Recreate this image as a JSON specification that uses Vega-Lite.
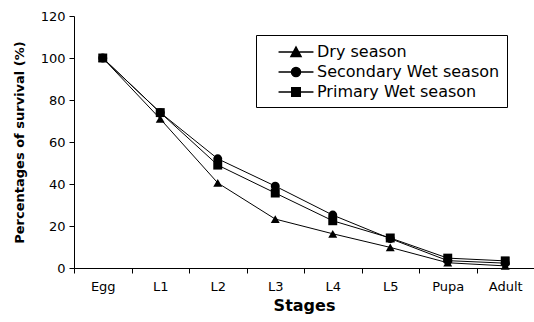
{
  "$schema": "https://vega.github.io/schema/vega-lite/v6.json",
  "width": 460,
  "height": 252,
  "autosize": "none",
  "padding": {"left": 74, "top": 16, "right": 0, "bottom": 54},
  "background": "white",
  "config": {
    "view": {"stroke": null},
    "font": "DejaVu Sans",
    "axis": {"grid": false, "domainColor": "black", "tickColor": "black", "labelColor": "black", "titleColor": "black", "labelFont": "DejaVu Sans", "titleFont": "DejaVu Sans"}
  },
  "data": {
    "values": [
      {"stage": "Egg", "season": "Dry season", "v": 100},
      {"stage": "L1", "season": "Dry season", "v": 71},
      {"stage": "L2", "season": "Dry season", "v": 40.5},
      {"stage": "L3", "season": "Dry season", "v": 23.3},
      {"stage": "L4", "season": "Dry season", "v": 16.3},
      {"stage": "L5", "season": "Dry season", "v": 9.8},
      {"stage": "Pupa", "season": "Dry season", "v": 2.5},
      {"stage": "Adult", "season": "Dry season", "v": 1},
      {"stage": "Egg", "season": "Secondary Wet season", "v": 100},
      {"stage": "L1", "season": "Secondary Wet season", "v": 74},
      {"stage": "L2", "season": "Secondary Wet season", "v": 52},
      {"stage": "L3", "season": "Secondary Wet season", "v": 39},
      {"stage": "L4", "season": "Secondary Wet season", "v": 25.2},
      {"stage": "L5", "season": "Secondary Wet season", "v": 14},
      {"stage": "Pupa", "season": "Secondary Wet season", "v": 3.5},
      {"stage": "Adult", "season": "Secondary Wet season", "v": 2.3},
      {"stage": "Egg", "season": "Primary Wet season", "v": 100},
      {"stage": "L1", "season": "Primary Wet season", "v": 74},
      {"stage": "L2", "season": "Primary Wet season", "v": 49},
      {"stage": "L3", "season": "Primary Wet season", "v": 35.7},
      {"stage": "L4", "season": "Primary Wet season", "v": 22.5},
      {"stage": "L5", "season": "Primary Wet season", "v": 14.3},
      {"stage": "Pupa", "season": "Primary Wet season", "v": 4.7},
      {"stage": "Adult", "season": "Primary Wet season", "v": 3.4}
    ]
  },
  "encoding": {
    "x": {
      "field": "stage", "type": "nominal",
      "sort": ["Egg", "L1", "L2", "L3", "L4", "L5", "Pupa", "Adult"],
      "scale": {"type": "band", "paddingInner": 0, "paddingOuter": 0},
      "axis": {"title": "Stages", "labelAngle": 0, "tickBand": "extent", "tickSize": 5, "labelFontSize": 13, "labelPadding": 7, "titleFontSize": 16, "titleFontWeight": "bold", "titlePadding": 4}
    },
    "y": {
      "field": "v", "type": "quantitative",
      "scale": {"domain": [0, 120], "nice": false},
      "axis": {"title": "Percentages of survival (%)", "values": [0, 20, 40, 60, 80, 100, 120], "tickSize": 5, "labelFontSize": 13, "labelPadding": 4, "titleFontSize": 13, "titleFontWeight": "bold", "titlePadding": 14}
    }
  },
  "layer": [
    {
      "mark": {"type": "line", "color": "black", "strokeWidth": 1},
      "encoding": {"detail": {"field": "season"}}
    },
    {
      "mark": {"type": "point", "filled": true, "color": "black", "opacity": 1, "size": 80},
      "encoding": {
        "shape": {"field": "season", "type": "nominal",
          "scale": {"domain": ["Dry season", "Secondary Wet season", "Primary Wet season"], "range": ["triangle-up", "circle", "square"]},
          "legend": null}
      }
    },
    {
      "mark": {"type": "point", "filled": true, "color": "black", "stroke": "black", "opacity": 0},
      "encoding": {
        "shape": {"field": "season", "type": "nominal",
          "scale": {"domain": ["Dry season", "Secondary Wet season", "Primary Wet season"],
            "range": [
              "M-1.94,0H1.94M0,-0.55L0.56,0.5L-0.56,0.5Z",
              "M0.5,0A0.5,0.5 0 1 1 -0.5,0A0.5,0.5 0 1 1 0.5,0Z M-1.94,0H1.94",
              "M-1.94,0H1.94M-0.47,-0.47H0.47V0.47H-0.47Z"
            ]},
          "legend": {
            "title": null, "orient": "none", "legendX": 182, "legendY": 19,
            "strokeColor": "black", "fillColor": "white", "padding": 7,
            "symbolSize": 324, "symbolOffset": 23, "labelFontSize": 16, "labelColor": "black", "labelFont": "DejaVu Sans", "labelOffset": 11, "rowPadding": 2,
            "labelLimit": 400,
            "encode": {"symbols": {"update": {"opacity": {"value": 1}, "fill": {"value": "black"}, "stroke": {"value": "black"}, "strokeWidth": {"value": 1}, "fillOpacity": {"value": 1}, "strokeOpacity": {"value": 1}}}}
          }
        }
      }
    }
  ],
  "resolve": {"scale": {"shape": "independent"}}
}
